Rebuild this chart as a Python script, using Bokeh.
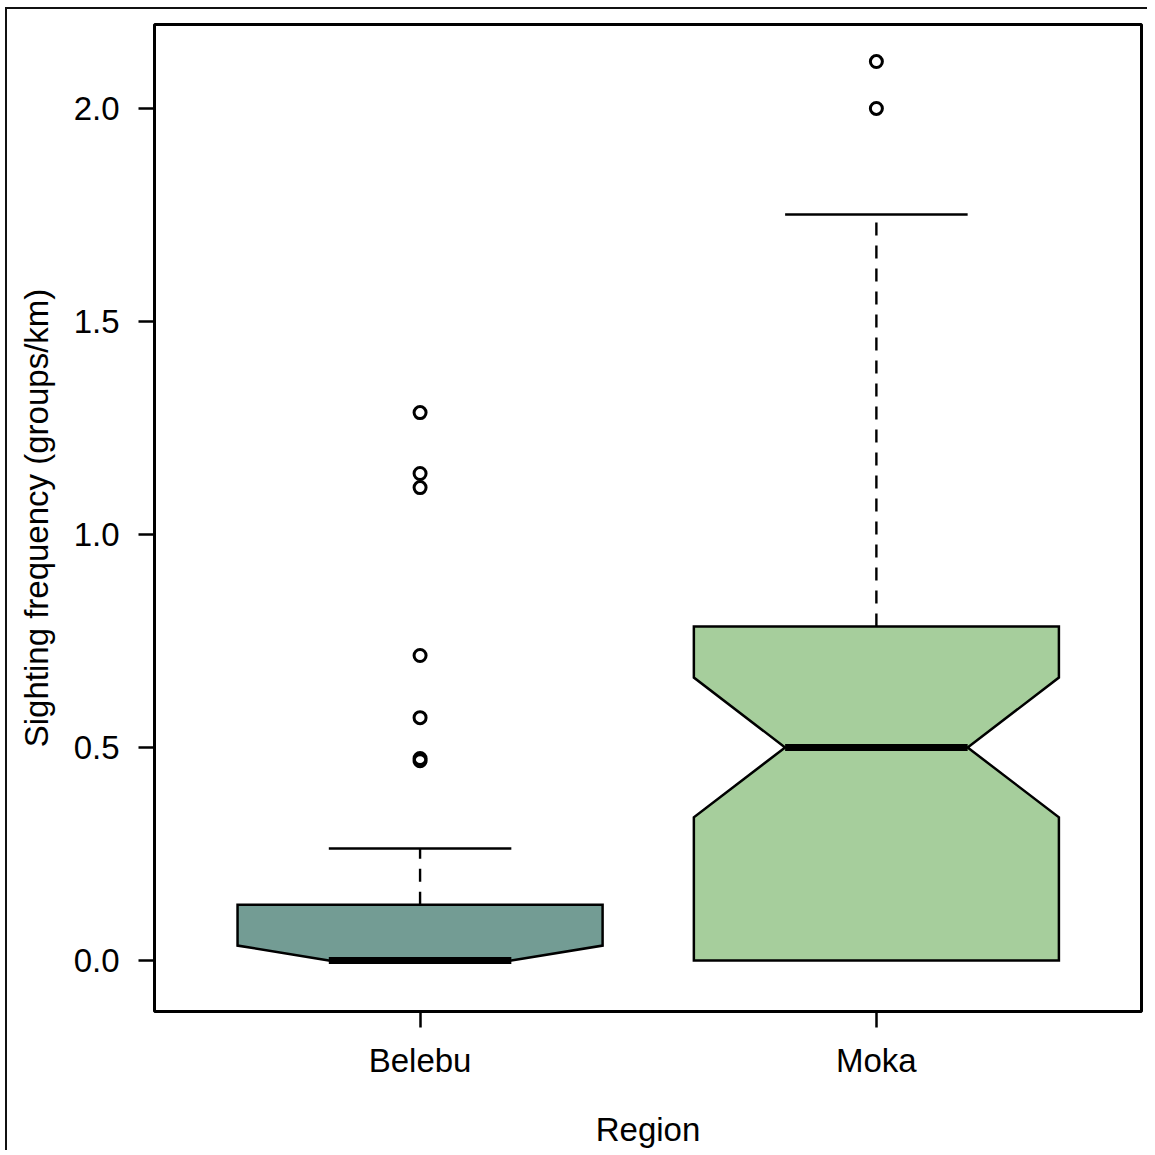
from bokeh.plotting import figure
from bokeh.models import Range1d, FixedTicker
from bokeh.embed import file_html
from bokeh.resources import INLINE

# ---- data ----
regions = ["Belebu", "Moka"]
positions = [1, 2]
q1 = [0.0, 0.0]
median = [0.0, 0.5]
q3 = [0.131, 0.784]
whisker_lo = [0.0, 0.0]
whisker_hi = [0.263, 1.751]
notch_lo = [-0.035, 0.336]
notch_hi = [0.035, 0.664]
outliers_belebu = [1.286, 1.143, 1.110, 0.716, 0.570, 0.474, 0.469]
outliers_moka = [2.110, 2.000]
fill_colors = ["#739C94", "#A6CE9C"]

FONT = "Liberation Sans"
BOX_HALF = 0.4
NOTCH_HALF = 0.2
CAP_HALF = 0.2

p = figure(width=1147, height=1150, output_backend="svg", toolbar_location=None,
           x_range=Range1d(0.418, 2.581), y_range=Range1d(-0.1197, 2.197),
           min_border_left=154, min_border_right=6, min_border_top=24, min_border_bottom=133)
p.background_fill_color = "white"
p.border_fill_color = None
p.styles = {
    "background": "linear-gradient(#111, #111) 5px 7px / 2px 100% no-repeat, "
                  "linear-gradient(#111, #111) 5px 7px / 100% 2px no-repeat, white",
}
p.outline_line_color = "black"
p.outline_line_width = 3
p.xgrid.visible = False
p.ygrid.visible = False

# boxes (notched polygons)
xs, ys = [], []
for i, x in enumerate(positions):
    hi = min(notch_hi[i], q3[i])
    if notch_lo[i] > q1[i]:
        left = [(x - BOX_HALF, q1[i]), (x - BOX_HALF, notch_lo[i]), (x - NOTCH_HALF, median[i])]
        right = [(x + NOTCH_HALF, median[i]), (x + BOX_HALF, notch_lo[i]), (x + BOX_HALF, q1[i])]
    else:
        left = [(x - NOTCH_HALF, median[i])]
        right = [(x + NOTCH_HALF, median[i])]
    mid = [(x - BOX_HALF, hi), (x - BOX_HALF, q3[i]), (x + BOX_HALF, q3[i]), (x + BOX_HALF, hi)]
    pts = left + mid + right
    xs.append([pt[0] for pt in pts])
    ys.append([pt[1] for pt in pts])
p.patches(xs, ys, fill_color=fill_colors, line_color="black", line_width=2.5, line_join="miter")

# whiskers
p.segment(x0=positions, y0=q3, x1=positions, y1=whisker_hi, line_color="black",
          line_width=2.4, line_dash="13 10")
# caps
p.segment(x0=[x - CAP_HALF for x in positions], y0=whisker_hi,
          x1=[x + CAP_HALF for x in positions], y1=whisker_hi, line_color="black", line_width=2.5)
# medians
p.segment(x0=[x - NOTCH_HALF for x in positions], y0=median,
          x1=[x + NOTCH_HALF for x in positions], y1=median, line_color="black", line_width=7)

# outliers
ox = [positions[0]] * len(outliers_belebu) + [positions[1]] * len(outliers_moka)
oy = outliers_belebu + outliers_moka
p.scatter(ox, oy, marker="circle", size=12, fill_color=None, line_color="black", line_width=3)

# axes
p.xaxis.ticker = FixedTicker(ticks=positions)
p.xaxis.major_label_overrides = {pos: r for pos, r in zip(positions, regions)}
p.yaxis.ticker = FixedTicker(ticks=[0.0, 0.5, 1.0, 1.5, 2.0])
p.yaxis.major_label_overrides = {0.0: "0.0", 0.5: "0.5", 1.0: "1.0", 1.5: "1.5", 2.0: "2.0"}
p.xaxis.axis_label = "Region"
p.yaxis.axis_label = "Sighting frequency (groups/km)"
for ax in (p.xaxis[0], p.yaxis[0]):
    ax.axis_line_color = None
    ax.minor_tick_line_color = None
    ax.major_tick_in = 0
    ax.major_tick_out = 16
    ax.major_tick_line_width = 2.5
    ax.major_tick_line_color = "black"
    ax.major_label_text_font = FONT
    ax.major_label_text_font_size = "33px"
    ax.major_label_text_color = "black"
    ax.axis_label_text_font = FONT
    ax.axis_label_text_font_size = "33px"
    ax.axis_label_text_font_style = "normal"
    ax.axis_label_text_color = "black"
p.yaxis.major_label_orientation = "horizontal"
p.yaxis.major_label_standoff = 19
p.xaxis.major_label_standoff = 14
p.xaxis.axis_label_standoff = 29
p.yaxis.axis_label_standoff = 16

open("out.html", "w").write(file_html(p, INLINE))
